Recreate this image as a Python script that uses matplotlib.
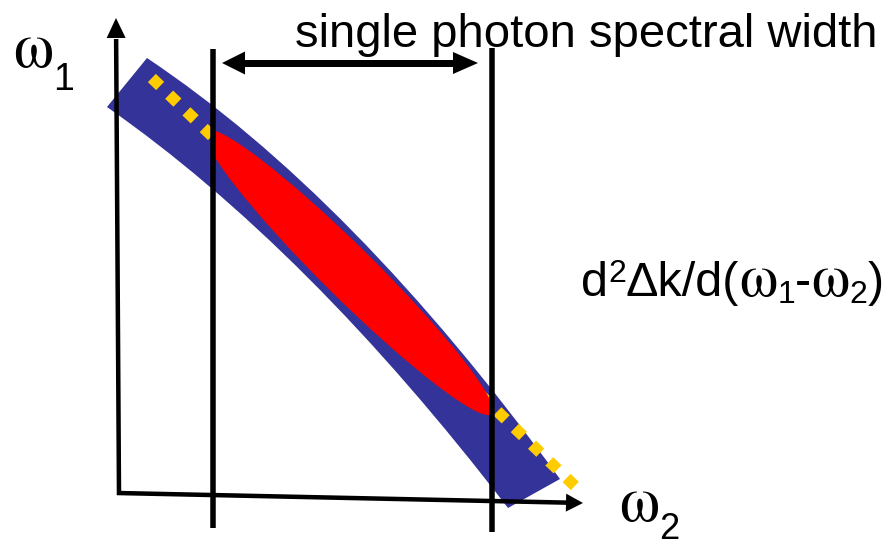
import math
import matplotlib
matplotlib.use("Agg")
import matplotlib.pyplot as plt
from matplotlib.path import Path
from matplotlib.patches import PathPatch, Ellipse, Polygon, Rectangle

plt.rcParams["lines.scale_dashes"] = False

# ---------------------------------------------------------------------------
# Geometry of the sketch (pixel units, y grows downward)
# ---------------------------------------------------------------------------
# Phase-matching band: upper edge (start, bend control, end) and lower edge
band_upper_x = [147, 353.5, 560]
band_upper_y = [58, 195.7, 479]
band_lower_x = [508, 307.5, 107]
band_lower_y = [508, 247, 107]

# Linear (first-order) approximation drawn as a dotted line: first / last dot
linear_x = [156, 570.7]
linear_y = [82, 482]
n_dots = 25

# Joint spectral amplitude (red lobe): tips of the long axis and its width
lobe_x = [206, 492]
lobe_y = [131, 414]
lobe_width = 52

# Filter edges (single photon spectral width)
filter_x = [213, 492]
filter_top = [49, 48]
filter_bottom = [528, 532]

# Coordinate axes
axis_origin = (119, 493)
axis_w1_tip = (116, 18)
axis_w2_tip = (583, 503)

# Double arrow across the spectral width
width_arrow_x = [222, 478]
width_arrow_y = 63

BLUE = "#333399"
RED = "#ff0000"
GOLD = "#ffcc00"
BLACK = "#000000"

W, H = 892, 546
fig = plt.figure(figsize=(W / 100, H / 100), dpi=100)
ax = fig.add_axes([0, 0, 1, 1])
ax.set_xlim(0, W)
ax.set_ylim(H, 0)
ax.axis("off")

PX = 0.72  # points per pixel at 100 dpi

# --- band ------------------------------------------------------------------
verts = list(zip(band_upper_x, band_upper_y)) + list(zip(band_lower_x, band_lower_y))
verts.append(verts[0])
codes = [Path.MOVETO, Path.CURVE3, Path.CURVE3,
         Path.LINETO, Path.CURVE3, Path.CURVE3, Path.CLOSEPOLY]
ax.add_patch(PathPatch(Path(verts, codes), facecolor=BLUE, edgecolor="none", zorder=1))

# --- dotted linear approximation ------------------------------------------
dx = linear_x[1] - linear_x[0]
dy = linear_y[1] - linear_y[0]
length = (dx ** 2 + dy ** 2) ** 0.5
ux, uy = dx / length, dy / length
side = 11.5
period = length / (n_dots - 1)
x0, y0 = linear_x[0] - ux * side / 2, linear_y[0] - uy * side / 2
x1, y1 = linear_x[1] + ux * side / 2, linear_y[1] + uy * side / 2
ax.plot([x0, x1], [y0, y1], color=GOLD, lw=side * PX,
        dashes=(side * PX, (period - side) * PX),
        dash_capstyle="butt", zorder=2)

# --- red lobe, limited by the two filter edges ----------------------------
cx, cy = (lobe_x[0] + lobe_x[1]) / 2, (lobe_y[0] + lobe_y[1]) / 2
lx, ly = lobe_x[1] - lobe_x[0], lobe_y[1] - lobe_y[0]
ang = math.degrees(math.atan2(ly, lx))
lobe = Ellipse((cx, cy), (lx ** 2 + ly ** 2) ** 0.5, lobe_width, angle=ang,
               facecolor=RED, edgecolor="none", zorder=3)
ax.add_patch(lobe)
lobe.set_clip_path(Rectangle((filter_x[0], 0), filter_x[1] - filter_x[0], H,
                             transform=ax.transData))

# --- filter edges -----------------------------------------------------------
for fx, ft, fb in zip(filter_x, filter_top, filter_bottom):
    ax.plot([fx, fx], [ft, fb], color=BLACK, lw=5.5 * PX, solid_capstyle="butt", zorder=5)


# --- axes with arrowheads -------------------------------------------------
def arrow_head(tip, direction, length, width):
    tx, ty = tip
    dxh, dyh = direction
    n = (dxh ** 2 + dyh ** 2) ** 0.5
    dxh, dyh = dxh / n, dyh / n
    bx, by = tx - dxh * length, ty - dyh * length
    px, py = -dyh, dxh
    pts = [(tx, ty), (bx + px * width / 2, by + py * width / 2),
           (bx - px * width / 2, by - py * width / 2)]
    ax.add_patch(Polygon(pts, closed=True, facecolor=BLACK, edgecolor="none", zorder=6))
    return bx, by


ox, oy = axis_origin
# vertical axis (omega_1)
bx, by = arrow_head(axis_w1_tip, (axis_w1_tip[0] - ox, axis_w1_tip[1] - oy), 20, 19)
ax.plot([ox, bx], [oy + 2, by + 1], color=BLACK, lw=4.5 * PX, solid_capstyle="butt", zorder=6)
# horizontal axis (omega_2)
bx, by = arrow_head(axis_w2_tip, (axis_w2_tip[0] - ox, axis_w2_tip[1] - oy), 17, 18)
ax.plot([ox - 2, bx + 1], [oy, by], color=BLACK, lw=4.5 * PX, solid_capstyle="butt", zorder=6)

# double arrow
la = arrow_head((width_arrow_x[0], width_arrow_y), (-1, 0), 23, 23)
ra = arrow_head((width_arrow_x[1], width_arrow_y), (1, 0), 25, 22)
ax.plot([la[0] - 1, ra[0] + 1], [width_arrow_y, width_arrow_y], color=BLACK,
        lw=7 * PX, solid_capstyle="butt", zorder=6)

# --- labels -------------------------------------------------------------------
SANS = ["Liberation Sans", "DejaVu Sans"]
SERIF = ["STIXGeneral", "Liberation Serif", "DejaVu Serif"]
renderer = fig.canvas.get_renderer()


def text_run(x, y, pieces):
    """Write consecutive pieces of text; each piece is (text, size, family, dy)."""
    for s, size, fam, off in pieces:
        t = ax.text(x, y + off, s, fontsize=size, family=fam,
                    ha="left", va="baseline", color=BLACK, zorder=7)
        x += t.get_window_extent(renderer).width


ax.text(295, 47, "single photon spectral width", fontsize=34, family=SANS,
        ha="left", va="baseline", zorder=7)

text_run(13, 67, [("\u03c9", 46, SERIF, 0), ("1", 27, SANS, 23)])
text_run(619, 521, [("\u03c9", 46, SERIF, 0), ("2", 26, SANS, 18)])

text_run(581, 296, [("d", 35, SANS, 0), ("2", 23, SANS, -14),
                    ("\u0394k/d(", 35, SANS, 0), ("\u03c9", 44, SERIF, 0),
                    ("1", 23, SANS, 7), ("-", 35, SANS, 0),
                    ("\u03c9", 44, SERIF, 0), ("2", 23, SANS, 7),
                    (")", 35, SANS, 0)])

fig.savefig("out.png", dpi=100)
